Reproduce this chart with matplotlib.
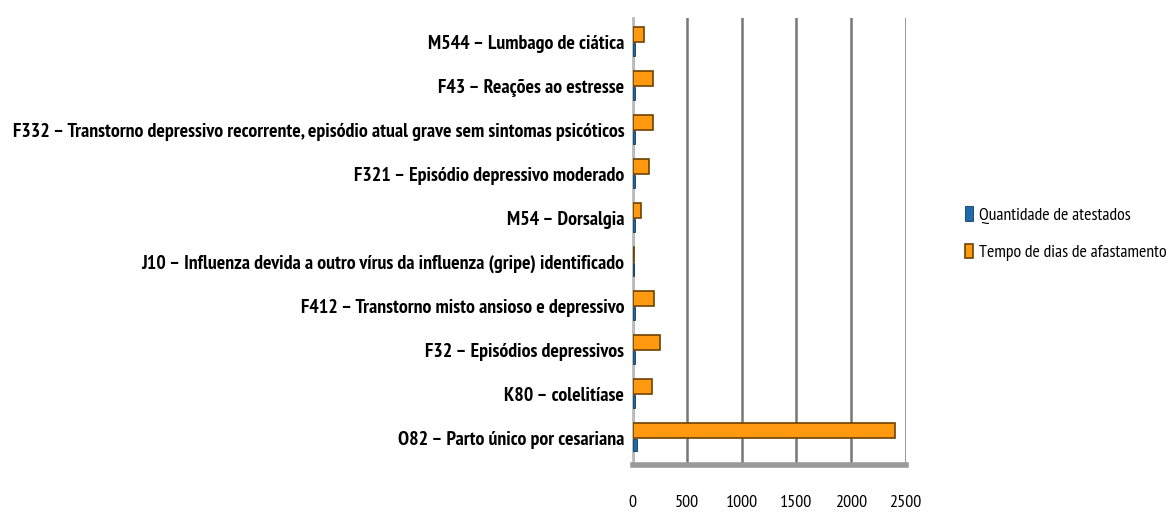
import matplotlib.pyplot as plt
import numpy as np
from matplotlib import font_manager as fm

# dados (de baixo para cima)
categorias = [
    'O82 – Parto único por cesariana',
    'K80 – colelitíase',
    'F32 – Episódios depressivos',
    'F412 – Transtorno misto ansioso e depressivo',
    'J10 – Influenza devida a outro vírus da influenza (gripe) identificado',
    'M54 – Dorsalgia',
    'F321 – Episódio depressivo moderado',
    'F332 – Transtorno depressivo recorrente, episódio atual grave sem sintomas psicóticos',
    'F43 – Reações ao estresse',
    'M544 – Lumbago de ciática',
]
quantidade = [38, 22, 25, 22, 12, 18, 22, 25, 22, 20]
tempo_dias = [2400, 175, 250, 195, 15, 75, 150, 185, 185, 100]
ticks_x = [0, 500, 1000, 1500, 2000, 2500]

# fonte estreita tipo Arial Narrow, se houver
disponiveis = {f.name for f in fm.fontManager.ttflist}
preferidas = ['Arial Narrow', 'Liberation Sans Narrow', 'PT Sans Narrow', 'Archivo Narrow',
              'Roboto Condensed', 'Pragati Narrow', 'Fira Sans Condensed',
              'IBM Plex Sans Condensed', 'Encode Sans Condensed', 'Open Sans Condensed']
fonte = next((f for f in preferidas if f in disponiveis), 'Liberation Sans')
plt.rcParams['font.family'] = [fonte, 'DejaVu Sans']

fig = plt.figure(figsize=(11.76, 5.16), dpi=100)
ax = fig.add_axes([0.538, 0.099, 0.232, 0.866])

y = np.arange(len(categorias))
h = 0.34
ax.barh(y + 0.17, tempo_dias, height=h, color='#FF9910', edgecolor='#6e4200',
        linewidth=1.2, label='Tempo de dias de afastamento', zorder=3)
ax.barh(y - 0.17, quantidade, height=h * 0.85, color='#1F6AA8', edgecolor='#0f3a60',
        linewidth=0.6, label='Quantidade de atestados', zorder=3)

ax.set_xlim(0, 2500)
ax.set_ylim(-0.62, 9.55)
ax.set_xticks(ticks_x)
ax.set_xticklabels([str(t) for t in ticks_x], fontsize=13)
ax.set_yticks(y)
ax.set_yticklabels(categorias, fontsize=14.3, fontweight='bold')
ax.tick_params(axis='x', length=0, pad=22)
ax.tick_params(axis='y', length=0, pad=6)

ax.grid(axis='x', color='#777777', linewidth=1.8, zorder=0)
for s in ['top', 'right']:
    ax.spines[s].set_visible(False)
ax.spines['left'].set_color('#bbbbbb')
ax.spines['left'].set_linewidth(2)
ax.spines['bottom'].set_color('#999999')
ax.spines['bottom'].set_linewidth(4)

handles, labels = ax.get_legend_handles_labels()
fig.legend(handles[::-1], labels[::-1], loc='center left', bbox_to_anchor=(0.807, 0.547),
           frameon=False, fontsize=12.8, handlelength=0.45, handleheight=0.9,
           handletextpad=0.35, labelspacing=1.1)

fig.savefig('out.png', dpi=100)
